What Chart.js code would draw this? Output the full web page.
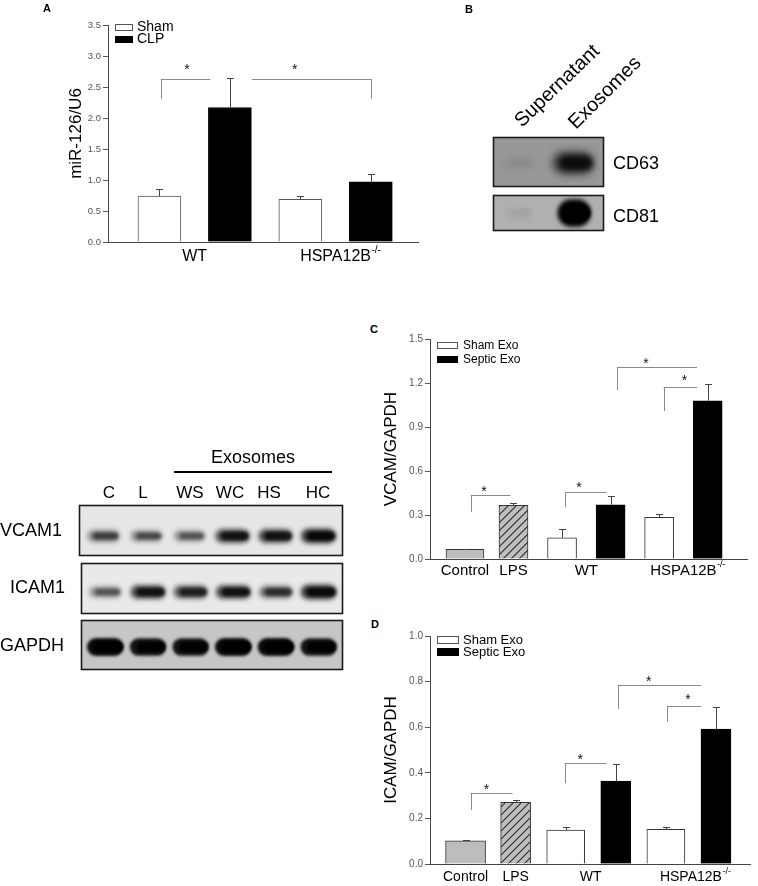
<!DOCTYPE html>
<html>
<head>
<meta charset="utf-8">
<script src="https://cdn.jsdelivr.net/npm/chart.js@4.4.1/dist/chart.umd.min.js"></script>
<style>
html,body{margin:0;padding:0;background:#fff}
body{width:758px;height:886px;position:relative;overflow:hidden;font-family:"Liberation Sans",Arial,Helvetica,sans-serif;color:#000}
canvas{position:absolute;display:block}
.t{position:absolute;white-space:nowrap;line-height:1}
.c{transform:translate(-50%,-50%)}
.l{transform:translateY(-50%)}
.b{font-weight:bold;font-size:11px}
</style>
</head>
<body>
<canvas id="chartA" width="430" height="270" style="left:0;top:0"></canvas>
<canvas id="blotB" width="250" height="240" style="left:460px;top:0"></canvas>
<canvas id="blotL" width="360" height="250" style="left:0;top:430px"></canvas>
<canvas id="chartC" width="378" height="300" style="left:380px;top:290px"></canvas>
<canvas id="chartD" width="378" height="286" style="left:380px;top:600px"></canvas>

<div class="t c b" style="left:47px;top:8px">A</div>
<div class="t c b" style="left:469px;top:9px">B</div>
<div class="t c b" style="left:374px;top:329px">C</div>
<div class="t c b" style="left:375px;top:624px">D</div>

<div class="t" style="font-size:20px;left:522px;top:111px;transform-origin:0 17px;transform:rotate(-44deg)">Supernatant</div>
<div class="t" style="font-size:20px;left:576px;top:113px;transform-origin:0 17px;transform:rotate(-45deg)">Exosomes</div>
<div class="t l" style="font-size:18px;left:613px;top:163px">CD63</div>
<div class="t l" style="font-size:18px;left:613px;top:216px">CD81</div>

<div class="t c" style="font-size:18px;left:253px;top:457px">Exosomes</div>
<div style="position:absolute;left:174px;top:471px;width:158px;height:2px;background:#000"></div>
<div class="t c" style="font-size:17px;left:109px;top:492px">C</div>
<div class="t c" style="font-size:17px;left:143px;top:492px">L</div>
<div class="t c" style="font-size:17px;left:190px;top:492px">WS</div>
<div class="t c" style="font-size:17px;left:230px;top:492px">WC</div>
<div class="t c" style="font-size:17px;left:269px;top:492px">HS</div>
<div class="t c" style="font-size:17px;left:318px;top:492px">HC</div>
<div class="t l" style="font-size:18px;left:0;top:530px">VCAM1</div>
<div class="t l" style="font-size:18px;left:10px;top:587px">ICAM1</div>
<div class="t l" style="font-size:18px;left:0;top:645px">GAPDH</div>

<script>
// ================= DATA =================
// Panel A : miR-126/U6
const groupsA = ['WT', 'HSPA12B'];
const groupSupA = ['', '-/-'];
const seriesA = ['Sham', 'CLP'];
const shamA = [0.74, 0.69];
const shamErrA = [0.11, 0.06];
const clpA = [2.17, 0.97];
const clpErrA = [0.475, 0.13];
const yTicksA = [0.0, 0.5, 1.0, 1.5, 2.0, 2.5, 3.0, 3.5];
const bracketsA = [
  {x1: 0.02, x2: 0.72, y: 2.63, legs: [[0.02, 2.31]], star: [0.39, 2.84]},
  {x1: 1.31, x2: 3.01, y: 2.63, legs: [[3.01, 2.31]], star: [1.92, 2.84]}
];

// Panels C and D
const groupsCD = ['Control', 'LPS', 'WT', 'HSPA12B'];
const groupSupCD = ['', '', '', '-/-'];
const seriesCD = ['Sham Exo', 'Septic Exo'];
const barKindCD = ['control', 'lps', 'sham', 'septic', 'sham', 'septic'];
const barGroupCD = [0, 1, 2, 2, 3, 3];

const vcamValues = [0.066, 0.366, 0.145, 0.370, 0.284, 1.079];
const vcamErrors = [0.003, 0.018, 0.057, 0.060, 0.026, 0.114];
const yTicksC = [0.0, 0.3, 0.6, 0.9, 1.2, 1.5];
const bracketsC = [
  {x1: 0.12, x2: 0.94, y: 0.436, legs: [[0.12, 0.322]], star: [0.39, 0.484]},
  {x1: 2.07, x2: 2.91, y: 0.459, legs: [[2.07, 0.354]], star: [2.35, 0.511]},
  {x1: 3.13, x2: 4.78, y: 1.307, legs: [[3.13, 1.152]], star: [3.73, 1.357]},
  {x1: 4.09, x2: 4.78, y: 1.175, legs: [[4.09, 1.009]], star: [4.52, 1.243]}
];

const icamValues = [0.102, 0.270, 0.149, 0.364, 0.152, 0.592];
const icamErrors = [0.003, 0.010, 0.014, 0.073, 0.010, 0.098];
const yTicksD = [0.0, 0.2, 0.4, 0.6, 0.8, 1.0];
const bracketsD = [
  {x1: 0.10, x2: 0.94, y: 0.313, legs: [[0.10, 0.237]], star: [0.42, 0.343]},
  {x1: 1.98, x2: 2.81, y: 0.442, legs: [[1.98, 0.354]], star: [2.29, 0.475]},
  {x1: 3.04, x2: 4.71, y: 0.784, legs: [[3.04, 0.680]], star: [3.66, 0.814]},
  {x1: 4.02, x2: 4.71, y: 0.694, legs: [[4.02, 0.624]], star: [4.44, 0.737]}
];

// Western blots (relative band intensity per lane)
const blotLanes = ['C', 'L', 'WS', 'WC', 'HS', 'HC'];
const vcam1Signal = [0.6, 0.55, 0.5, 0.9, 0.9, 1.0];
const icam1Signal = [0.5, 0.9, 0.8, 0.9, 0.7, 1.0];
const gapdhSignal = [1.0, 0.95, 0.95, 1.0, 1.0, 0.95];
const blotBLanes = ['Supernatant', 'Exosomes'];
const cd63Signal = [0.05, 0.85];
const cd81Signal = [0.03, 1.0];

// ================= HELPERS =================
const FONT = '"Liberation Sans", Arial, Helvetica, sans-serif';
Chart.defaults.font.family = FONT;
Chart.defaults.color = '#000';
Chart.defaults.animation = false;

function hatchPattern() {
  const c = document.createElement('canvas');
  c.width = 8; c.height = 8;
  const g = c.getContext('2d');
  g.fillStyle = '#bfbfbf'; g.fillRect(0, 0, 8, 8);
  g.strokeStyle = '#2a2a2a'; g.lineWidth = 1.1;
  g.beginPath();
  g.moveTo(0, 8); g.lineTo(8, 0);
  g.moveTo(-2, 2); g.lineTo(2, -2);
  g.moveTo(6, 10); g.lineTo(10, 6);
  g.stroke();
  return g.createPattern(c, 'repeat');
}

function yAxis(ticks, title, tickSize, titleSize, titlePad, width) {
  return {
    type: 'linear', min: ticks[0], max: ticks[ticks.length - 1],
    afterBuildTicks: s => { s.ticks = ticks.map(v => ({value: v})); },
    afterFit: s => { s.width = width; },
    ticks: {font: {size: tickSize}, color: '#555', padding: 2, callback: v => Number(v).toFixed(1)},
    grid: {display: true, drawOnChartArea: false, drawTicks: true, tickLength: 5, color: '#555'},
    border: {display: true, color: '#444', width: 1},
    title: {display: true, text: title, font: {size: titleSize}, color: '#000', padding: {top: titlePad, bottom: 0}}
  };
}
function xAxis(min, max, height) {
  return {
    type: 'linear', min, max, offset: false,
    afterFit: s => { s.height = height; },
    ticks: {display: false},
    grid: {display: false, offset: false},
    border: {display: true, color: '#444', width: 1}
  };
}

const errorBars = {
  id: 'errorBars',
  afterDatasetsDraw(chart) {
    const {ctx, scales: {y}} = chart;
    chart.data.datasets.forEach((ds, di) => {
      if (!ds.errors) return;
      const meta = chart.getDatasetMeta(di);
      meta.data.forEach((bar, i) => {
        const v = ds.data[i].y, e = ds.errors[i];
        const top = Math.round(y.getPixelForValue(v + e)) + 0.5;
        const px = Math.round(bar.x) + 0.5;
        ctx.save();
        ctx.strokeStyle = '#444'; ctx.lineWidth = 1;
        ctx.beginPath();
        ctx.moveTo(px, bar.y); ctx.lineTo(px, top);
        ctx.moveTo(px - 3.5, top); ctx.lineTo(px + 3.5, top);
        ctx.stroke();
        ctx.restore();
      });
    });
  }
};

function makeBrackets(items) {
  return {
    id: 'brackets',
    afterDatasetsDraw(chart) {
      const {ctx, scales: {x, y}} = chart;
      ctx.save();
      items.forEach(b => {
        const yy = Math.round(y.getPixelForValue(b.y)) + 0.5;
        ctx.strokeStyle = '#8a8a8a'; ctx.lineWidth = 1;
        ctx.beginPath();
        ctx.moveTo(x.getPixelForValue(b.x1), yy);
        ctx.lineTo(x.getPixelForValue(b.x2), yy);
        b.legs.forEach(([lx, ly]) => {
          const px = Math.round(x.getPixelForValue(lx)) + 0.5;
          ctx.moveTo(px, yy); ctx.lineTo(px, y.getPixelForValue(ly));
        });
        ctx.stroke();
        ctx.fillStyle = '#111'; ctx.font = '14px ' + FONT;
        ctx.textAlign = 'center'; ctx.textBaseline = 'alphabetic';
        ctx.fillText('*', x.getPixelForValue(b.star[0]), y.getPixelForValue(b.star[1]) + 14 * 0.57);
      });
      ctx.restore();
    }
  };
}

function makeLegend(items, x, y, bw, bh, gap, textX, size) {
  return {
    id: 'boxLegend',
    afterDraw(chart) {
      const ctx = chart.ctx;
      ctx.save();
      items.forEach((it, i) => {
        const top = y + i * gap;
        ctx.fillStyle = it.fill; ctx.fillRect(x, top, bw, bh);
        ctx.strokeStyle = it.stroke; ctx.lineWidth = 1;
        ctx.strokeRect(x + 0.5, top + 0.5, bw - 1, bh - 1);
        ctx.fillStyle = '#000'; ctx.font = size + 'px ' + FONT;
        ctx.textBaseline = 'middle'; ctx.textAlign = 'left';
        ctx.fillText(it.text, textX, top + bh / 2);
      });
      ctx.restore();
    }
  };
}

function makeGroupLabels(names, sups, positions, dy, size) {
  return {
    id: 'groupLabels',
    afterDraw(chart) {
      const {ctx, chartArea, scales: {x}} = chart;
      ctx.save();
      ctx.fillStyle = '#000'; ctx.textBaseline = 'middle'; ctx.textAlign = 'left';
      names.forEach((n, i) => {
        const px = x.getPixelForValue(positions[i]);
        const py = chartArea.bottom + dy;
        ctx.font = size + 'px ' + FONT;
        const w = ctx.measureText(n).width;
        ctx.fillText(n, px - w / 2, py);
        if (sups[i]) {
          ctx.font = Math.round(size * 0.62) + 'px ' + FONT;
          ctx.fillText(sups[i], px + w / 2 + 0.5, py - size * 0.42);
        }
      });
      ctx.restore();
    }
  };
}

// ================= CHART A =================
const dsA = [
  {label: seriesA[0], data: shamA.map((v, g) => ({x: g * 2, y: v})), errors: shamErrA,
   backgroundColor: '#fff', borderColor: '#555', borderWidth: 1, barThickness: 43, grouped: false},
  {label: seriesA[1], data: clpA.map((v, g) => ({x: g * 2 + 1, y: v})), errors: clpErrA,
   backgroundColor: '#000', borderColor: '#000', borderWidth: 1, barThickness: 43, grouped: false}
];
new Chart(document.getElementById('chartA'), {
  type: 'bar',
  data: {datasets: dsA},
  options: {
    responsive: false, maintainAspectRatio: false, animation: false,
    layout: {padding: {left: 60, right: 12, top: 25, bottom: 0}},
    plugins: {legend: {display: false}, tooltip: {enabled: false}},
    scales: {
      x: xAxis(-0.73, 3.67, 28),
      y: yAxis(yTicksA, 'miR-126/U6', 9.5, 17, 6, 48)
    }
  },
  plugins: [
    errorBars,
    makeBrackets(bracketsA),
    makeLegend([
      {text: seriesA[0], fill: '#fff', stroke: '#555'},
      {text: seriesA[1], fill: '#000', stroke: '#000'}
    ], 115, 24, 18, 7, 12, 137, 14),
    makeGroupLabels(groupsA, groupSupA, groupsA.map((g, i) => i * 2 + 0.5), 15, 16)
  ]
});

// ================= CHARTS C & D =================
const pattern = hatchPattern();
const kindStyle = {
  control: {label: groupsCD[0], backgroundColor: '#bdbdbd', borderColor: '#333'},
  lps: {label: groupsCD[1], backgroundColor: pattern, borderColor: '#333'},
  sham: {label: seriesCD[0], backgroundColor: '#fff', borderColor: '#333'},
  septic: {label: seriesCD[1], backgroundColor: '#000', borderColor: '#000'}
};
function cdDatasets(values, errors, widths) {
  return Object.keys(kindStyle).map(k => {
    const idx = barKindCD.map((kk, i) => kk === k ? i : -1).filter(i => i >= 0);
    return Object.assign({}, kindStyle[k], {
      data: idx.map(i => ({x: i, y: values[i]})),
      errors: idx.map(i => errors[i]),
      borderWidth: 1, barThickness: widths[k], grouped: false
    });
  });
}
const groupPosCD = groupsCD.map((g, gi) => {
  const idx = barGroupCD.map((bg, i) => bg === gi ? i : -1).filter(i => i >= 0);
  return idx.reduce((a, b) => a + b, 0) / idx.length;
});
const legendCD = [
  {text: seriesCD[0], fill: '#fff', stroke: '#555'},
  {text: seriesCD[1], fill: '#000', stroke: '#000'}
];

new Chart(document.getElementById('chartC'), {
  type: 'bar',
  data: {datasets: cdDatasets(vcamValues, vcamErrors, {control: 38, lps: 29, sham: 29, septic: 29})},
  options: {
    responsive: false, maintainAspectRatio: false, animation: false,
    layout: {padding: {left: 0, right: 11, top: 49, bottom: 0}},
    plugins: {legend: {display: false}, tooltip: {enabled: false}},
    scales: {
      x: xAxis(-0.72, 5.81, 31),
      y: yAxis(yTicksC, 'VCAM/GAPDH', 10, 17, 1, 50)
    }
  },
  plugins: [
    errorBars,
    makeBrackets(bracketsC),
    makeLegend(legendCD, 57, 52, 21, 7, 14, 83, 12),
    makeGroupLabels(groupsCD, groupSupCD, groupPosCD, 12, 15)
  ]
});

new Chart(document.getElementById('chartD'), {
  type: 'bar',
  data: {datasets: cdDatasets(icamValues, icamErrors, {control: 40, lps: 30, sham: 38, septic: 30})},
  options: {
    responsive: false, maintainAspectRatio: false, animation: false,
    layout: {padding: {left: 0, right: 8, top: 36, bottom: 0}},
    plugins: {legend: {display: false}, tooltip: {enabled: false}},
    scales: {
      x: xAxis(-0.71, 5.68, 22),
      y: yAxis(yTicksD, 'ICAM/GAPDH', 10, 17, 1, 50)
    }
  },
  plugins: [
    errorBars,
    makeBrackets(bracketsD),
    makeLegend(legendCD, 57, 36, 22, 8, 12, 83, 13),
    makeGroupLabels(groupsCD, groupSupCD, groupPosCD, 13, 14)
  ]
});

// ================= WESTERN BLOTS =================
function blob(ctx, cx, cy, w, h, a, blur) {
  ctx.save();
  ctx.filter = 'blur(' + blur + 'px)';
  ctx.fillStyle = 'rgba(0,0,0,' + a + ')';
  ctx.beginPath();
  ctx.roundRect(cx - w / 2, cy - h / 2, w, h, Math.min(h / 2, w / 2));
  ctx.fill();
  ctx.restore();
}
function drawBlot(ctx, box, bg, signals, o) {
  ctx.save();
  ctx.fillStyle = bg; ctx.fillRect(box.x, box.y, box.w, box.h);
  ctx.beginPath(); ctx.rect(box.x, box.y, box.w, box.h); ctx.clip();
  const laneW = (box.w - 2 * o.pad) / signals.length;
  signals.forEach((s, i) => {
    const cx = box.x + o.pad + (i + 0.5) * laneW + (o.dx || 0);
    const cy = box.y + o.cy;
    const w = o.w * (0.8 + 0.25 * s), h = o.h * (0.6 + 0.6 * s);
    const a = Math.min(1, s * o.k);
    blob(ctx, cx, cy, w, h, a, o.blur);
    blob(ctx, cx + w * 0.08, cy, w * 0.8, h * 0.6, a, o.blur * 0.6);
  });
  ctx.restore();
  ctx.save();
  ctx.strokeStyle = '#1a1a1a'; ctx.lineWidth = 1.6;
  ctx.strokeRect(box.x + 0.5, box.y + 0.5, box.w - 1, box.h - 1);
  ctx.restore();
}

const bctx = document.getElementById('blotB').getContext('2d');
drawBlot(bctx, {x: 33, y: 137, w: 111, h: 50}, '#989898', cd63Signal,
  {pad: 0, cy: 26, w: 40, h: 20, blur: 4, k: 0.85, dx: -3});
drawBlot(bctx, {x: 33, y: 195, w: 111, h: 36}, '#b0b0b0', cd81Signal,
  {pad: 0, cy: 18, w: 32, h: 23, blur: 2, k: 1.0, dx: -2});

const lctx = document.getElementById('blotL').getContext('2d');
drawBlot(lctx, {x: 79, y: 75, w: 264, h: 51}, '#e6e6e6', vcam1Signal,
  {pad: 3, cy: 31, w: 33, h: 12, blur: 2.5, k: 0.8});
drawBlot(lctx, {x: 81, y: 133, w: 262, h: 51}, '#e9e9e9', icam1Signal,
  {pad: 3, cy: 29, w: 34, h: 12, blur: 2.5, k: 0.8});
drawBlot(lctx, {x: 81, y: 190, w: 262, h: 50}, '#c6c6c6', gapdhSignal,
  {pad: 3, cy: 27, w: 35, h: 15, blur: 1.5, k: 0.95});
</script>
</body>
</html>
